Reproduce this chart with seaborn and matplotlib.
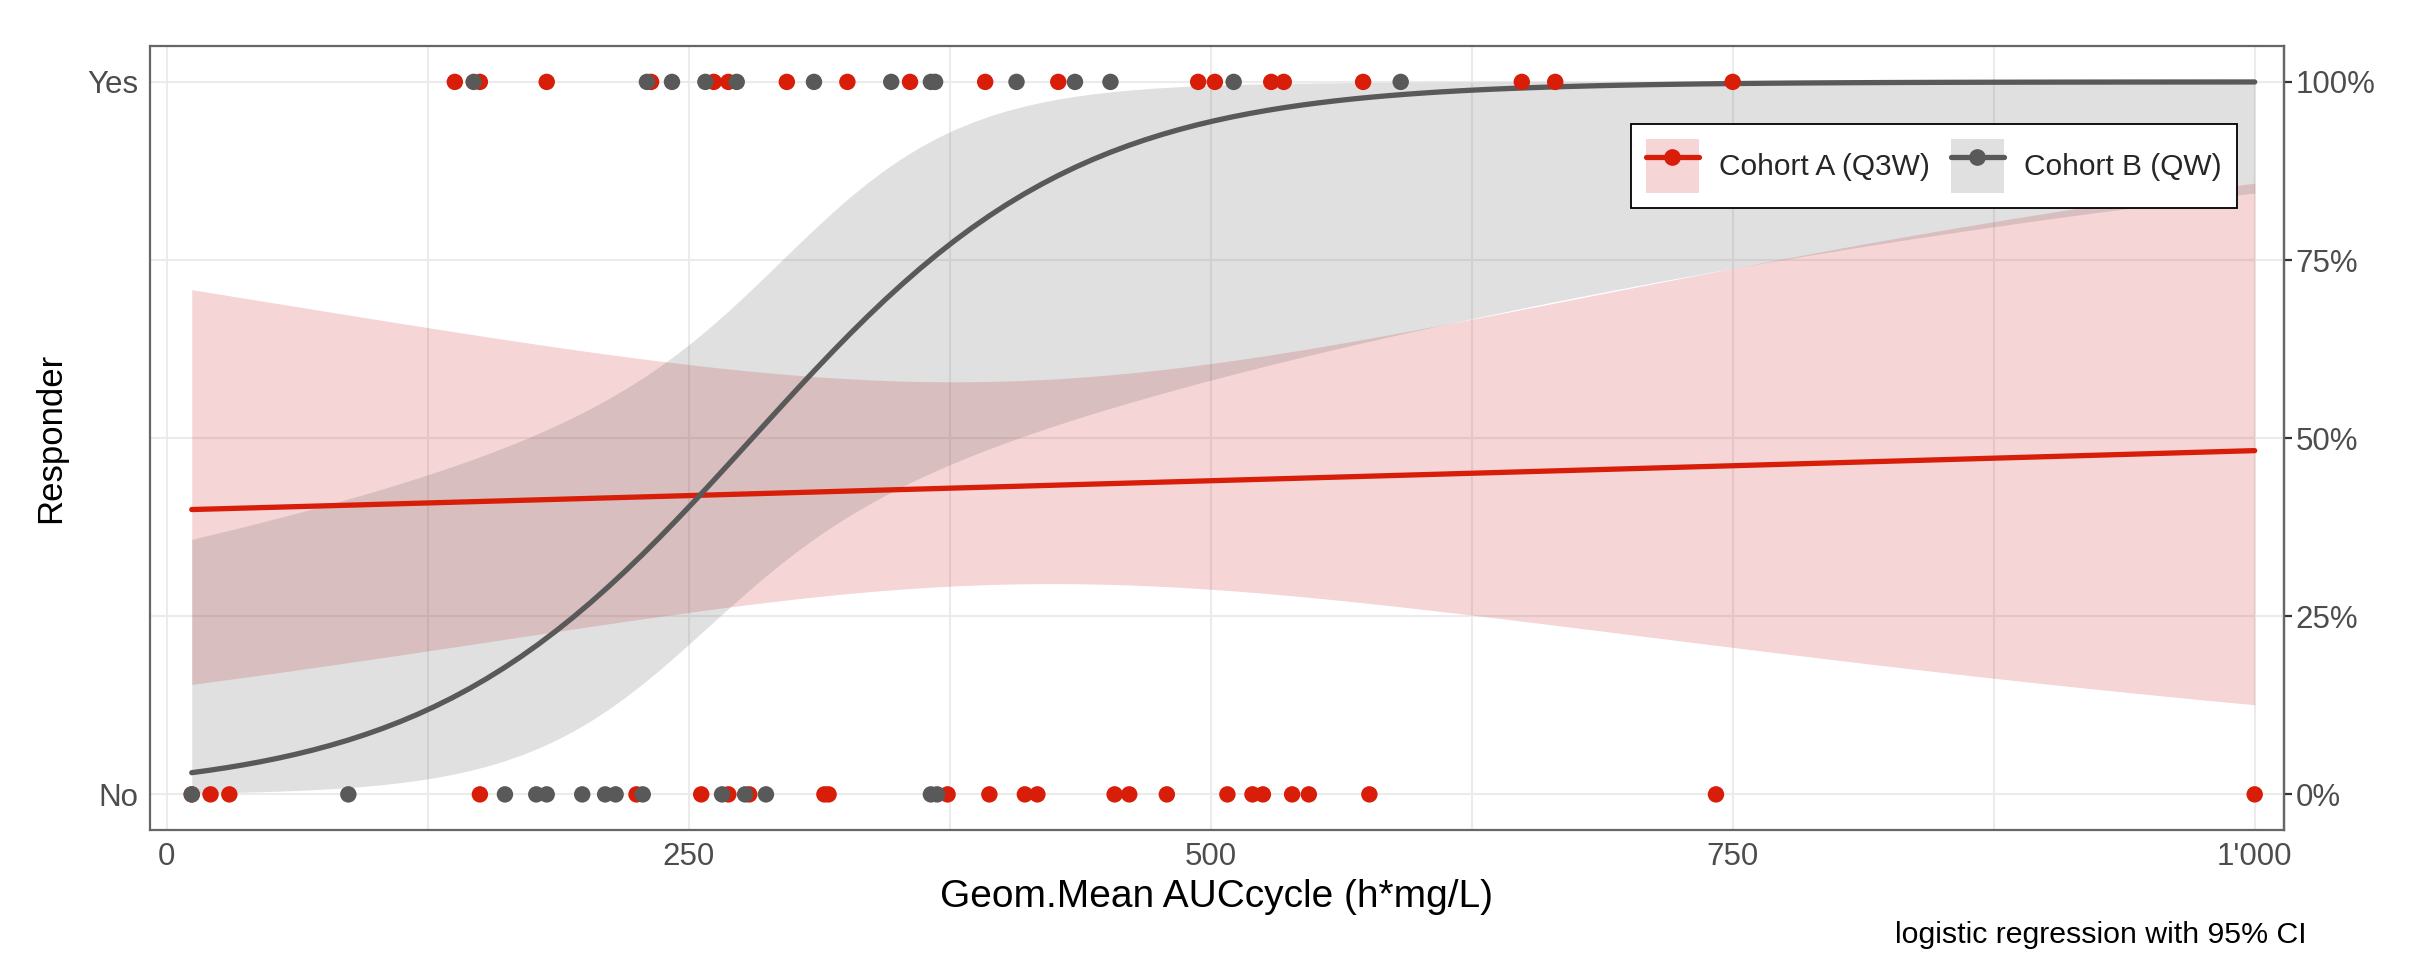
import numpy as np
import pandas as pd
import matplotlib
matplotlib.use("Agg")
import matplotlib.pyplot as plt
import seaborn as sns
from matplotlib.lines import Line2D
from matplotlib.patches import Patch
from matplotlib.legend_handler import HandlerTuple

# responders / non-responders per cohort, geom. mean AUCcycle (h*mg/L)
cohorts = ["Cohort A (Q3W)", "Cohort B (QW)"]
a_yes = [138, 150, 182, 232, 262, 269, 297, 326, 356, 392, 427, 494, 502,
         529, 535, 573, 649, 665, 750]
a_no = [12, 21, 30, 150, 225, 256, 269, 279, 315, 317, 374, 394, 411, 417, 454,
        461, 479, 508, 520, 525, 539, 547, 576, 742, 1000]
b_yes = [147, 230, 242, 258, 273, 310, 347, 366, 368, 407, 435, 452, 511, 591]
b_no = [12, 87, 162, 177, 182, 199, 210, 215, 228, 266, 277, 287, 366, 369]

colors = {"Cohort A (Q3W)": "#D81E08", "Cohort B (QW)": "#595959"}
band_colors = {"Cohort A (Q3W)": "#CD2D32", "Cohort B (QW)": "#646464"}
x_ticks = [0, 250, 500, 750, 1000]
x_labels = ["0", "250", "500", "750", "1'000"]
pct_ticks = [0, 0.25, 0.5, 0.75, 1]
pct_labels = ["0%", "25%", "50%", "75%", "100%"]

rows = []
for c, yes, no in [(cohorts[0], a_yes, a_no), (cohorts[1], b_yes, b_no)]:
    rows += [(c, v, 1) for v in yes] + [(c, v, 0) for v in no]
df = pd.DataFrame(rows, columns=["cohort", "auc", "resp"])


def logit_fit(x, y, grid):
    # plain IRLS logistic regression, CI on link scale (like glm + geom_smooth)
    X = np.column_stack([np.ones_like(x), x / 100.0])
    beta = np.zeros(2)
    for _ in range(200):
        p = 1 / (1 + np.exp(-(X @ beta)))
        H = X.T @ (X * (p * (1 - p))[:, None])
        step = np.linalg.solve(H, X.T @ (y - p))
        beta += step
        if np.abs(step).max() < 1e-10:
            break
    p = 1 / (1 + np.exp(-(X @ beta)))
    cov = np.linalg.inv(X.T @ (X * (p * (1 - p))[:, None]))
    G = np.column_stack([np.ones_like(grid), grid / 100.0])
    eta = G @ beta
    se = np.sqrt(np.einsum("ij,jk,ik->i", G, cov, G))
    inv = lambda e: 1 / (1 + np.exp(-e))
    return inv(eta), inv(eta - 1.96 * se), inv(eta + 1.96 * se)


grid = np.linspace(df["auc"].min(), df["auc"].max(), 120)
fits = []
for c in cohorts:
    sub = df[df["cohort"] == c]
    fit, lo, hi = logit_fit(sub["auc"].to_numpy(float), sub["resp"].to_numpy(float), grid)
    fits.append(pd.DataFrame({"cohort": c, "auc": grid, "fit": fit, "lo": lo, "hi": hi}))
fit_df = pd.concat(fits)

sns.set_theme(style="white")
plt.rcParams["font.family"] = ["Liberation Sans", "DejaVu Sans"]

fig = plt.figure(figsize=(24.23, 9.64), dpi=100)
ax = fig.add_axes([0.0619, 0.139, 0.8807, 0.813])

for c in cohorts:
    f = fit_df[fit_df["cohort"] == c]
    ax.fill_between(f["auc"], f["lo"], f["hi"], color=band_colors[c], alpha=0.2,
                    linewidth=0, zorder=2)
    sns.lineplot(data=f, x="auc", y="fit", color=colors[c], linewidth=3.8, ax=ax, zorder=3)

sns.scatterplot(data=df, x="auc", y="resp", hue="cohort", palette=colors, s=140,
                linewidth=0, legend=False, ax=ax, zorder=5)

ax.set_xlim(-8, 1014)
ax.set_ylim(-0.05, 1.05)
ax.set_xticks(x_ticks)
ax.set_xticklabels(x_labels)
ax.set_xticks([125, 375, 625, 875], minor=True)
ax.set_yticks([0, 1])
ax.set_yticklabels(["No", "Yes"])
ax.set_yticks([0.25, 0.5, 0.75], minor=True)
ax.grid(True, which="both", color="#EBEBEB", linewidth=1.5, zorder=0)
ax.set_axisbelow(True)
for s in ax.spines.values():
    s.set_color("#666666")
    s.set_linewidth(1.6)
ax.tick_params(which="major", length=6, width=1.6, color="#333333",
               labelsize=22.5, labelcolor="#4D4D4D", pad=2.5)
ax.tick_params(which="minor", length=0)

sec = ax.secondary_yaxis("right")
sec.set_yticks(pct_ticks)
sec.set_yticklabels(pct_labels)
sec.tick_params(length=6, width=1.6, color="#333333", labelsize=22.5,
                labelcolor="#4D4D4D", pad=2.5)
sec.spines["right"].set_color("#666666")
sec.spines["right"].set_linewidth(1.6)

ax.set_xlabel("Geom.Mean AUCcycle (h*mg/L)", fontsize=28, color="black", labelpad=5)
ax.set_ylabel("Responder", fontsize=25, color="black", labelpad=14)

handles = [(Patch(facecolor=band_colors[c], alpha=0.2, linewidth=0),
            Line2D([], [], color=colors[c], linewidth=3.8, marker="o", markersize=11))
           for c in cohorts]
leg = ax.legend(handles, cohorts, handler_map={tuple: HandlerTuple(ndivide=1, pad=0)},
                loc="upper right", bbox_to_anchor=(0.978, 0.9005), borderaxespad=0,
                ncol=2, fontsize=21.5, frameon=True, fancybox=False, edgecolor="black",
                framealpha=1, handlelength=1.75, handleheight=2.4, columnspacing=0.7,
                handletextpad=0.7, borderpad=0.5)
leg.get_frame().set_linewidth(1.3)
leg.set_zorder(10)

fig.text(0.952, 0.016, "logistic regression with 95% CI", ha="right", va="bottom",
         fontsize=21.8, color="black")

fig.savefig("out.png", dpi=100)
